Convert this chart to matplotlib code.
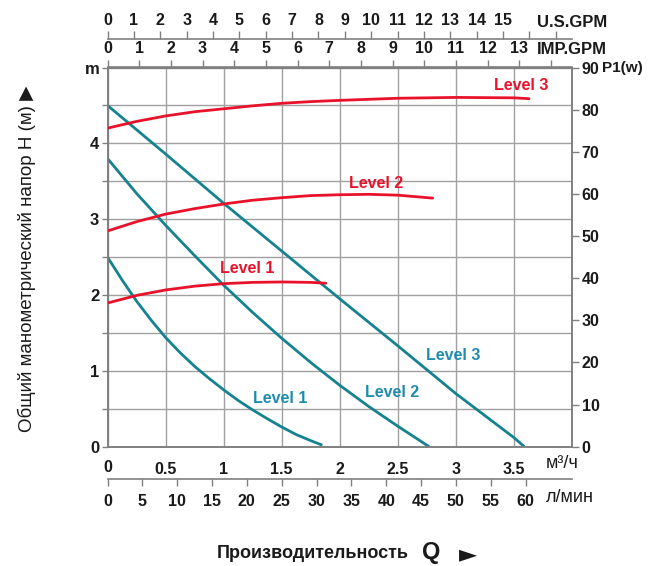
import matplotlib
matplotlib.use('Agg')
import matplotlib.pyplot as plt

plt.rcParams['font.family'] = ['Liberation Sans', 'DejaVu Sans']

# ---------------- data ----------------
# Head curves: flow (m³/h) -> head (m)
h1_q = [0, 0.125, 0.25, 0.375, 0.5, 0.625, 0.75, 0.875, 1.0, 1.125, 1.25,
        1.375, 1.5, 1.625, 1.75, 1.85]
h1_h = [2.5, 2.20, 1.92, 1.67, 1.44, 1.24, 1.06, 0.90, 0.75, 0.61, 0.485,
        0.37, 0.26, 0.16, 0.08, 0.02]
h2_q = [0, 0.25, 0.5, 0.75, 1.0, 1.25, 1.5, 1.75, 2.0, 2.25, 2.5, 2.77]
h2_h = [3.8, 3.34, 2.92, 2.52, 2.13, 1.77, 1.43, 1.11, 0.81, 0.53, 0.27, 0.0]
h3_q = [0, 0.5, 1.0, 1.5, 2.0, 2.5, 3.0, 3.5, 3.59]
h3_h = [4.5, 3.86, 3.21, 2.58, 1.95, 1.33, 0.7, 0.12, 0.0]

# Power curves: flow (m³/h) -> P1 (W)
p1_q = [0, 0.25, 0.5, 0.75, 1.0, 1.25, 1.5, 1.75, 1.88]
p1_w = [34.1, 35.9, 37.2, 38.1, 38.7, 39.0, 39.1, 39.0, 38.8]
p2_q = [0, 0.25, 0.5, 0.75, 1.0, 1.25, 1.5, 1.75, 2.0, 2.25, 2.5, 2.8]
p2_w = [51.2, 53.4, 55.2, 56.5, 57.6, 58.5, 59.1, 59.6, 59.8, 59.9, 59.7, 59.0]
p3_q = [0, 0.25, 0.5, 0.75, 1.0, 1.25, 1.5, 1.75, 2.0, 2.5, 3.0, 3.5, 3.63]
p3_w = [75.6, 77.2, 78.5, 79.5, 80.2, 80.9, 81.5, 81.9, 82.2, 82.7, 82.9,
        82.8, 82.6]

level_names = ["Level 1", "Level 2", "Level 3"]

m3h_ticks = [0, 0.5, 1, 1.5, 2, 2.5, 3, 3.5, 4]
m3h_labels = ["", "0.5", "1", "1.5", "2", "2.5", "3", "3.5", ""]
lmin_ticks = list(range(0, 61, 5))
usgpm_ticks = list(range(0, 18))
usgpm_labels = [str(v) if v <= 15 else "" for v in usgpm_ticks]
impgpm_ticks = list(range(0, 15))
impgpm_labels = [str(v) if v <= 13 else "" for v in impgpm_ticks]
head_ticks = [0, 0.5, 1, 1.5, 2, 2.5, 3, 3.5, 4, 4.5, 5]
head_labels = ["0", "", "1", "", "2", "", "3", "", "4", "", "m"]
power_ticks = list(range(0, 91, 10))

# ---------------- style ----------------
W, H = 649, 566
TEAL = '#15828F'
TEAL_TXT = '#1E8DAD'
RED = '#E8132B'
GRID = '#a0a0a0'
SPINE = '#808080'
TXT = '#1a1a1a'

fig = plt.figure(figsize=(W / 100, H / 100), dpi=100)
x0, x1, ytop, ybot = 107.5, 572, 67.5, 446.7
ax = fig.add_axes([x0 / W, 1 - ybot / H, (x1 - x0) / W, (ybot - ytop) / H])
ax.set_xlim(0, 4)
ax.set_ylim(0, 5)

for s in ax.spines.values():
    s.set_color(SPINE)
    s.set_linewidth(1.2)

# main bottom (m³/h) labels
ax.set_xticks(m3h_ticks)
ax.set_xticklabels(m3h_labels)
ax.tick_params(axis='x', length=0, pad=11, labelsize=11.5, labelcolor=TXT)
for lab in ax.get_xticklabels():
    lab.set_fontweight('bold')

# left head axis
ax.set_yticks(head_ticks)
ax.set_yticklabels(head_labels)
ax.tick_params(axis='y', length=4, width=1, color=SPINE, direction='out',
               pad=2, labelsize=12, labelcolor=TXT)
for lab in ax.get_yticklabels():
    lab.set_fontweight('bold')

ax.grid(True, color=GRID, linewidth=1.0)
ax.set_axisbelow(True)

# head curves
ax.plot(h1_q, h1_h, color=TEAL, lw=2.0, solid_capstyle='butt', zorder=3)
ax.plot(h2_q, h2_h, color=TEAL, lw=2.0, solid_capstyle='butt', zorder=3)
ax.plot(h3_q, h3_h, color=TEAL, lw=2.0, solid_capstyle='butt', zorder=3)

# right power axis
ax2 = ax.twinx()
ax2.set_ylim(0, 90)
ax2.set_yticks(power_ticks)
ax2.tick_params(axis='y', length=5, width=1, color=SPINE, direction='out',
                pad=2, labelsize=11.5, labelcolor=TXT)
for lab in ax2.get_yticklabels():
    lab.set_fontweight('bold')
for s in ax2.spines.values():
    s.set_color(SPINE)
    s.set_linewidth(1.2)
ax2.plot(p1_q, p1_w, color=RED, lw=2.0, solid_capstyle='round', zorder=3)
ax2.plot(p2_q, p2_w, color=RED, lw=2.0, solid_capstyle='round', zorder=3)
ax2.plot(p3_q, p3_w, color=RED, lw=2.0, solid_capstyle='round', zorder=3)

# level labels
lbl_kw = dict(fontsize=11.5, fontweight='bold', ha='center', va='center')
ax.text(1.20, 2.35, level_names[0], color=RED, **lbl_kw)
ax.text(2.31, 3.47, level_names[1], color=RED, **lbl_kw)
ax.text(3.56, 4.76, level_names[2], color=RED, **lbl_kw)
ax.text(1.485, 0.64, level_names[0], color=TEAL_TXT, **lbl_kw)
ax.text(2.45, 0.71, level_names[1], color=TEAL_TXT, **lbl_kw)
ax.text(2.98, 1.20, level_names[2], color=TEAL_TXT, **lbl_kw)

# ---------------- secondary flow axes ----------------
def m3h_to_lmin(v):
    return v * 1000.0 / 60.0

def lmin_to_m3h(v):
    return v * 60.0 / 1000.0

def m3h_to_us(v):
    return v * 1000.0 / 60.0 / 3.78541

def us_to_m3h(v):
    return v * 60.0 * 3.78541 / 1000.0

def m3h_to_imp(v):
    return v * 1000.0 / 60.0 / 4.54609

def imp_to_m3h(v):
    return v * 60.0 * 4.54609 / 1000.0

span = ybot - ytop
loc_lmin = -(478.5 - ybot) / span
loc_us = (ybot - 39.3) / span

sec_l = ax.secondary_xaxis(loc_lmin, functions=(m3h_to_lmin, lmin_to_m3h))
sec_l.set_xticks(lmin_ticks)
sec_l.tick_params(length=5, width=1, color=SPINE, direction='out', pad=6,
                  labelsize=11.5, labelcolor=TXT)
for lab in sec_l.get_xticklabels():
    lab.set_fontweight('bold')
sec_l.spines['bottom'].set_color(SPINE)
sec_l.spines['bottom'].set_linewidth(1.2)

sec_i = ax.secondary_xaxis('top', functions=(m3h_to_imp, imp_to_m3h))
sec_i.set_xticks(impgpm_ticks)
sec_i.set_xticklabels(impgpm_labels)
sec_i.tick_params(length=5, width=1, color=SPINE, direction='out', pad=3,
                  labelsize=11.5, labelcolor=TXT)
for lab in sec_i.get_xticklabels():
    lab.set_fontweight('bold')
sec_i.spines['top'].set_color(SPINE)
sec_i.spines['top'].set_linewidth(1.2)

sec_u = ax.secondary_xaxis(loc_us, functions=(m3h_to_us, us_to_m3h))
sec_u.set_xticks(usgpm_ticks)
sec_u.set_xticklabels(usgpm_labels)
sec_u.tick_params(length=6, width=1, color=SPINE, direction='out', pad=2,
                  labelsize=11.5, labelcolor=TXT)
for lab in sec_u.get_xticklabels():
    lab.set_fontweight('bold')
sec_u.spines['top'].set_color(SPINE)
sec_u.spines['top'].set_linewidth(1.2)

# ---------------- free texts ----------------
def fx(px):
    return px / W

def fy(py):
    return 1 - py / H

fig.text(fx(108), fy(467.5), "0", fontsize=11.5,
         fontweight='bold', ha='center', va='center', color=TXT)
fig.text(fx(572), fy(22.5), "U.S.GPM", fontsize=12, fontweight='bold',
         ha='center', va='center', color=TXT)
fig.text(fx(572), fy(50), "IMP.GPM", fontsize=12, fontweight='bold',
         ha='center', va='center', color=TXT)
fig.text(fx(602), fy(68), "P1(w)", fontsize=11, fontweight='bold',
         ha='left', va='center', color=TXT)
fig.text(fx(546), fy(464), "м³/ч", fontsize=13, ha='left', va='center',
         color=TXT)
fig.text(fx(546), fy(498), "л/мин", fontsize=13, ha='left', va='center',
         color=TXT)

fig.text(fx(27), fy(259), "Общий манометрический напор H (м) ▶",
         fontsize=13.5, rotation=90, ha='center', va='center', color=TXT,
         family=['Liberation Sans', 'DejaVu Sans'])

fig.text(fx(313), fy(553), "Производительность", fontsize=13,
         fontweight='bold', ha='center', va='center', color=TXT)
fig.text(fx(431), fy(552), "Q", fontsize=17, fontweight='bold',
         ha='center', va='center', color=TXT)
fig.text(fx(468), fy(554), "►", fontsize=17, ha='center', va='center',
         color=TXT, family=['DejaVu Sans'])

fig.savefig('out.png', dpi=100)
